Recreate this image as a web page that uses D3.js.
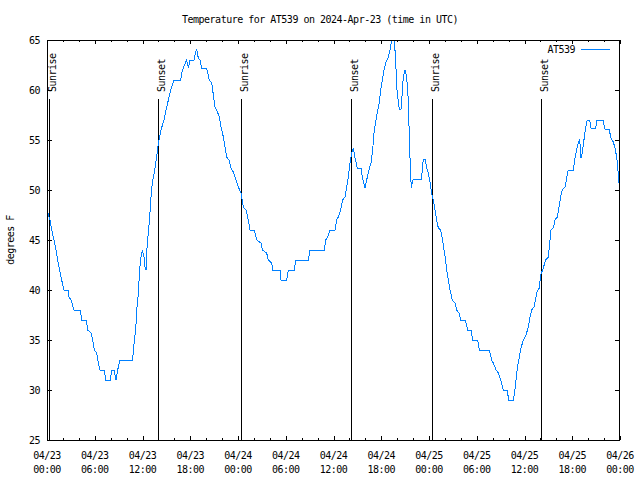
<!DOCTYPE html>
<html><head><meta charset="utf-8">
<script src="https://cdn.jsdelivr.net/npm/d3@7"></script>
<style>
html,body{margin:0;padding:0;background:#fff;}
text{font-family:"DejaVu Sans Mono","Liberation Mono",monospace;font-size:10px;letter-spacing:-0.5px;fill:#000;}
</style></head>
<body>
<svg id="c" width="640" height="480"></svg>
<script>
// ---- data ----
const startUTC = "2024-04-23T00:00:00Z";
const endUTC = "2024-04-26T00:00:00Z";
const seriesName = "AT539";
// hours after start
const hours = [0,0.38,0.59,0.88,1.13,1.34,1.59,1.84,2.14,2.68,2.76,3.02,3.39,4.19,4.36,4.94,5.11,5.53,5.74,5.95,6.24,6.45,6.66,7.2,7.37,7.96,8.13,8.42,8.67,8.88,9.17,10.72,10.85,10.97,11.14,11.31,11.48,11.64,11.81,11.98,12.19,12.31,12.44,12.57,12.73,12.9,13.07,13.23,13.48,13.78,13.99,14.32,14.7,14.95,15.25,15.45,15.66,15.96,16.8,16.92,17.13,17.42,17.55,17.76,17.97,18.47,18.6,18.8,19.01,19.22,19.43,20.06,20.19,20.4,20.69,20.82,20.98,21.11,21.32,21.65,21.86,22.16,22.37,22.58,22.87,23.12,23.41,23.75,24.04,24.38,24.67,25.0,25.3,25.51,26.0,26.14,26.35,26.89,27.06,27.6,27.81,28.23,28.36,29.28,29.4,30.11,30.32,31.08,31.25,32.84,33.05,34.85,35.01,35.27,35.56,36.19,36.4,36.6,36.9,37.15,37.44,37.65,37.86,38.07,38.28,38.49,38.7,38.99,39.45,39.62,39.96,40.17,40.46,40.71,40.92,41.09,41.3,41.51,41.76,41.97,42.18,42.39,42.6,42.89,43.1,43.31,43.52,43.64,43.81,43.94,44.15,44.27,44.48,44.6,44.77,44.98,45.19,45.4,45.53,45.65,45.78,45.9,46.03,47.08,47.2,47.37,47.5,47.71,47.92,48.12,48.33,48.54,48.75,48.96,49.17,49.47,49.72,49.88,50.09,50.22,50.43,50.64,50.93,51.27,51.47,51.77,51.98,52.52,52.65,52.86,53.28,53.49,54.07,54.2,54.32,55.54,55.66,55.87,56.08,56.42,56.71,57.0,57.34,57.84,58.0,58.6,58.8,58.93,59.1,59.35,59.56,59.85,60.19,60.48,60.69,60.9,61.19,61.44,61.61,61.86,62.03,62.28,62.66,62.99,63.2,63.33,63.62,63.83,64.12,64.33,64.54,64.75,65.09,65.3,65.5,66.13,66.34,66.55,66.76,66.93,67.1,67.26,67.47,67.68,67.89,68.19,68.35,68.94,69.11,69.86,70.11,70.62,70.87,71.16,71.37,71.58,71.7,71.83,71.96];
const tempF = [48,47,46,45,44,43,42,41,40,40,39.3,39,38,38,37,37,36,35.7,35,34,33.7,32.7,32,32,31,31,32,32,31,32,33,33,33.7,35,36,38.3,39.7,42,43.3,44,43.3,42.3,42,44.3,45.7,47.3,49.3,50.7,51.7,53.3,54.7,56,57,58,59,59.7,60.3,61,61,61.7,62.2,62.8,63,62.2,63,63,63.5,64.1,63.2,63,62.2,62.2,61.7,61,60.7,60,59,58.3,58,57.3,56.3,55.3,54.3,53.3,53,52.2,51.8,51,50.3,49.7,48.3,48,47,46,46,45.7,45,44.7,44,43.7,43,42.7,42,42,41,41,42,42,43,43,44,44,45,45.3,46,46,47,47.3,48,49,49.3,50.3,51.3,52.7,53.7,54.2,53.2,52.2,52.2,51.3,50.2,51,52,52.7,54,55.7,56.8,57.8,58.8,60.2,61.2,62.2,62.8,63.3,64,65,65.6,65,63,60.3,58.8,58.1,58.1,59.3,61.3,62,61.3,59,55.2,52.3,50.2,50.8,51.1,51.1,52.7,53.1,53.1,52.2,51.7,50.8,49.7,49,48,47,46.2,46,45,44,43,42,41,40,39,38.7,38,37.7,37,37,36.7,36,36,35,35,34.7,34,34,33.7,33,32.7,32,31.7,31,30,30,29,29,30,31,32.2,33.3,34.2,35,35.5,36.3,37.3,38,38.3,39.3,39.9,40.2,41.5,42,43,43.3,45,46,46.2,47,47.3,48.3,49.3,50,50.3,51.2,52,52,53.2,54,54.7,55.1,53.2,53.7,55,56.2,57,57,56.2,56.2,57,57,56.1,56.1,55.2,54.8,54.2,53.3,52.5,51,50.2];
const sunLabels = ["Sunrise","Sunset","Sunrise","Sunset","Sunrise","Sunset"];
const sunHours = [0.29,13.99,24.39,38.15,48.42,62.08];
const yTicks = [25,30,35,40,45,50,55,60,65];
const title = "Temperature for AT539 on 2024-Apr-23 (time in UTC)";
const yLabel = "degrees F";

// ---- chart ----
const svg = d3.select("#c");
const L = 47, R = 620, T = 40, B = 440;
const t0 = new Date(startUTC), t1 = new Date(endUTC);
const x = d3.scaleUtc().domain([t0, t1]).range([L, R]);
const y = d3.scaleLinear().domain([25, 65]).range([B, T]);
const toDate = h => new Date(t0.getTime() + h * 3600e3);
const data = hours.map((h, i) => ({t: toDate(h), v: tempF[i]}));

svg.append("rect").attr("width",640).attr("height",480).attr("fill","#fff");

// axes ticks (inward, mirrored)
const major = d3.utcHour.every(6).range(t0, d3.utcHour.offset(t1, 1));
const minor = d3.utcHour.every(2).range(t0, d3.utcHour.offset(t1, 1));
const g = svg.append("g").attr("stroke","#000").attr("stroke-width",1);
minor.forEach(d => {
  const isMajor = d.getUTCHours() % 6 === 0;
  const len = isMajor ? 4 : 2;
  const xx = Math.round(x(d)) + 0.5;
  g.append("line").attr("x1",xx).attr("x2",xx).attr("y1",B).attr("y2",B-len);
  g.append("line").attr("x1",xx).attr("x2",xx).attr("y1",T).attr("y2",T+len);
});
yTicks.forEach(v => {
  const yy = Math.round(y(v)) + 0.5;
  g.append("line").attr("x1",L).attr("x2",L+5).attr("y1",yy).attr("y2",yy);
  g.append("line").attr("x1",R).attr("x2",R-5).attr("y1",yy).attr("y2",yy);
});

// y tick labels
svg.append("g").selectAll("text").data(yTicks).join("text")
  .attr("x", L - 7).attr("y", d => y(d) + 4).attr("text-anchor","end").text(d => d);

// x tick labels
const fmtD = d3.utcFormat("%m/%d"), fmtH = d3.utcFormat("%H:%M");
const xl = svg.append("g");
major.forEach(d => {
  xl.append("text").attr("x", x(d)).attr("y", 459).attr("text-anchor","middle").text(fmtD(d));
  xl.append("text").attr("x", x(d)).attr("y", 473).attr("text-anchor","middle").text(fmtH(d));
});

// sunrise / sunset markers
sunHours.forEach((h, i) => {
  const xx = Math.round(x(toDate(h))) + 0.5;
  svg.append("line").attr("x1",xx).attr("x2",xx).attr("y1",99).attr("y2",B)
    .attr("stroke","#000").attr("stroke-width",1);
  svg.append("text").attr("transform",`translate(${xx+6},92) rotate(-90)`)
    .attr("text-anchor","start").text(sunLabels[i]);
});

// clip + line
svg.append("clipPath").attr("id","clip").append("rect")
  .attr("x",L).attr("y",T).attr("width",R-L).attr("height",B-T);
svg.append("path").datum(data)
  .attr("clip-path","url(#clip)")
  .attr("fill","none").attr("stroke","#0080ff").attr("stroke-width",1)
  .attr("shape-rendering","crispEdges")
  .attr("d", d3.line().x(d => x(d.t)).y(d => y(d.v)).curve(d3.curveLinear));

// frame
svg.append("rect").attr("x",L+0.5).attr("y",T+0.5).attr("width",R-L-1).attr("height",B-T)
  .attr("fill","none").attr("stroke","#000").attr("stroke-width",1);

// title, y label
svg.append("text").attr("x",320).attr("y",23).attr("text-anchor","middle").text(title);
svg.append("text").attr("transform","translate(14,240) rotate(-90)").attr("text-anchor","middle").text(yLabel);

// legend
svg.append("text").attr("x",575).attr("y",53).attr("text-anchor","end").text(seriesName);
svg.append("line").attr("x1",581).attr("x2",610).attr("y1",49.5).attr("y2",49.5)
  .attr("stroke","#0080ff").attr("stroke-width",1);
</script>
</body></html>
